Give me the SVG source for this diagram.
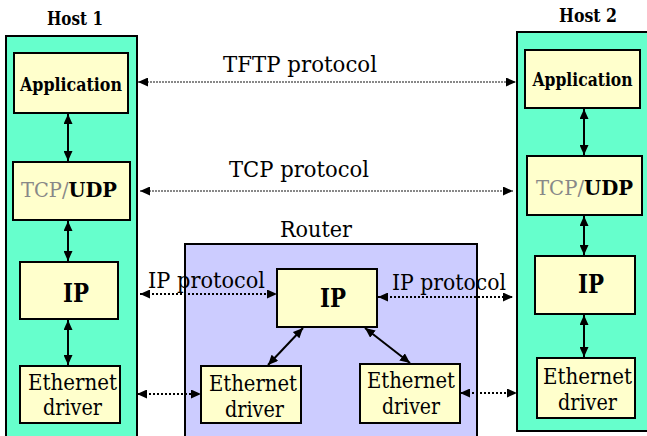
<svg xmlns="http://www.w3.org/2000/svg" width="647" height="436" viewBox="0 0 647 436">
<style>
text{font-family:"DejaVu Serif","Liberation Serif",serif}
.host{fill:#66FFCC;stroke:#000;stroke-width:2}
.router{fill:#CCCCFF;stroke:#000;stroke-width:2}
.box{fill:#FFFFCC;stroke:#000;stroke-width:2}
.b{font-weight:bold}
.solid{stroke:#000;stroke-width:2;fill:none}
.dotg{stroke:#888;stroke-width:2;stroke-dasharray:2 1;fill:none}
.dotk{stroke:#000;stroke-width:2;stroke-dasharray:2 2;fill:none}
</style>
<defs>
<marker id="ah" markerUnits="userSpaceOnUse" markerWidth="11" markerHeight="9" refX="10" refY="4.5" orient="auto-start-reverse">
<path d="M0,0 L10,4.5 L0,9 z" fill="#000"/>
</marker>
</defs>
<rect width="647" height="436" fill="#fff"/>

<g id="host1">
<rect class="host" x="6" y="36" width="131" height="410"/>
<text class="b" x="75" y="25" font-size="18" text-anchor="middle" textLength="56" lengthAdjust="spacingAndGlyphs">Host 1</text>
</g>
<g id="host2">
<rect class="host" x="517" y="32" width="140" height="399"/>
<text class="b" x="588" y="22" font-size="18" text-anchor="middle" textLength="58" lengthAdjust="spacingAndGlyphs">Host 2</text>
</g>
<g id="router">
<rect class="router" x="185" y="244" width="292" height="210"/>
<text x="316" y="237" font-size="22" text-anchor="middle" textLength="72" lengthAdjust="spacingAndGlyphs">Router</text>
</g>

<g id="h1-app">
<rect class="box" x="14" y="53" width="114" height="60"/>
<text class="b" x="71" y="91" font-size="18" text-anchor="middle" textLength="102" lengthAdjust="spacingAndGlyphs">Application</text>
</g>
<g id="h1-tcp">
<rect class="box" x="13" y="162" width="117" height="58"/>
<text x="69" y="197" font-size="21" text-anchor="middle" textLength="96" lengthAdjust="spacingAndGlyphs"><tspan fill="#888">TCP/</tspan><tspan class="b">UDP</tspan></text>
</g>
<g id="h1-ip">
<rect class="box" x="20" y="262" width="98" height="57"/>
<text class="b" x="76" y="302" font-size="26" text-anchor="middle" textLength="26" lengthAdjust="spacingAndGlyphs">IP</text>
</g>
<g id="h1-eth">
<rect class="box" x="20" y="366" width="100" height="57"/>
<text x="72.5" y="390" font-size="22" text-anchor="middle" textLength="89" lengthAdjust="spacingAndGlyphs">Ethernet</text>
<text x="72.5" y="415" font-size="22" text-anchor="middle" textLength="59" lengthAdjust="spacingAndGlyphs">driver</text>
</g>

<g id="h2-app">
<rect class="box" x="525" y="50" width="115" height="58"/>
<text class="b" x="582.5" y="86" font-size="18" text-anchor="middle" textLength="100" lengthAdjust="spacingAndGlyphs">Application</text>
</g>
<g id="h2-tcp">
<rect class="box" x="527" y="156" width="115" height="59"/>
<text x="584.5" y="195" font-size="21" text-anchor="middle" textLength="97" lengthAdjust="spacingAndGlyphs"><tspan fill="#888">TCP/</tspan><tspan class="b">UDP</tspan></text>
</g>
<g id="h2-ip">
<rect class="box" x="535" y="256" width="100" height="58"/>
<text class="b" x="591" y="293" font-size="26" text-anchor="middle" textLength="26" lengthAdjust="spacingAndGlyphs">IP</text>
</g>
<g id="h2-eth">
<rect class="box" x="537" y="358" width="98" height="60"/>
<text x="587.5" y="384" font-size="22" text-anchor="middle" textLength="89" lengthAdjust="spacingAndGlyphs">Ethernet</text>
<text x="587.5" y="410" font-size="22" text-anchor="middle" textLength="59" lengthAdjust="spacingAndGlyphs">driver</text>
</g>

<g id="r-ip">
<rect class="box" x="277" y="269" width="100" height="58"/>
<text class="b" x="333" y="307" font-size="26" text-anchor="middle" textLength="26" lengthAdjust="spacingAndGlyphs">IP</text>
</g>
<g id="r-eth1">
<rect class="box" x="201" y="366" width="100" height="57"/>
<text x="253" y="391" font-size="22" text-anchor="middle" textLength="88" lengthAdjust="spacingAndGlyphs">Ethernet</text>
<text x="254.5" y="417" font-size="22" text-anchor="middle" textLength="59" lengthAdjust="spacingAndGlyphs">driver</text>
</g>
<g id="r-eth2">
<rect class="box" x="360" y="364" width="100" height="59"/>
<text x="411" y="388" font-size="22" text-anchor="middle" textLength="88" lengthAdjust="spacingAndGlyphs">Ethernet</text>
<text x="411" y="414" font-size="22" text-anchor="middle" textLength="58" lengthAdjust="spacingAndGlyphs">driver</text>
</g>

<g id="connectors">
<line class="solid" x1="68" y1="114" x2="68" y2="161" marker-start="url(#ah)" marker-end="url(#ah)"/>
<line class="solid" x1="68" y1="221" x2="68" y2="261" marker-start="url(#ah)" marker-end="url(#ah)"/>
<line class="solid" x1="68" y1="320" x2="68" y2="365" marker-start="url(#ah)" marker-end="url(#ah)"/>
<line class="solid" x1="584" y1="109" x2="584" y2="155" marker-start="url(#ah)" marker-end="url(#ah)"/>
<line class="solid" x1="584" y1="216" x2="584" y2="255" marker-start="url(#ah)" marker-end="url(#ah)"/>
<line class="solid" x1="584" y1="315" x2="584" y2="357" marker-start="url(#ah)" marker-end="url(#ah)"/>
<line class="solid" x1="303" y1="328" x2="268" y2="365" marker-start="url(#ah)" marker-end="url(#ah)"/>
<line class="solid" x1="365" y1="328" x2="410" y2="363" marker-start="url(#ah)" marker-end="url(#ah)"/>

<line class="dotg" x1="138" y1="82" x2="516" y2="82" marker-start="url(#ah)" marker-end="url(#ah)"/>
<line class="dotg" x1="140" y1="191" x2="513" y2="191" marker-start="url(#ah)" marker-end="url(#ah)"/>
<line class="dotk" x1="140" y1="294" x2="277" y2="294" marker-start="url(#ah)" marker-end="url(#ah)"/>
<line class="dotk" x1="378" y1="297" x2="513" y2="297" marker-start="url(#ah)" marker-end="url(#ah)"/>
<line class="dotk" x1="137" y1="394" x2="201" y2="394" marker-start="url(#ah)" marker-end="url(#ah)"/>
<line class="dotk" x1="460" y1="393" x2="517" y2="393" marker-start="url(#ah)" marker-end="url(#ah)"/>

<text x="300" y="72" font-size="22" text-anchor="middle" textLength="154" lengthAdjust="spacingAndGlyphs">TFTP protocol</text>
<text x="299" y="177" font-size="22" text-anchor="middle" textLength="140" lengthAdjust="spacingAndGlyphs">TCP protocol</text>
<text x="148" y="288" font-size="22" textLength="117" lengthAdjust="spacingAndGlyphs">IP protocol</text>
<text x="392" y="290" font-size="22" textLength="114" lengthAdjust="spacingAndGlyphs">IP protocol</text>
</g>
</svg>
